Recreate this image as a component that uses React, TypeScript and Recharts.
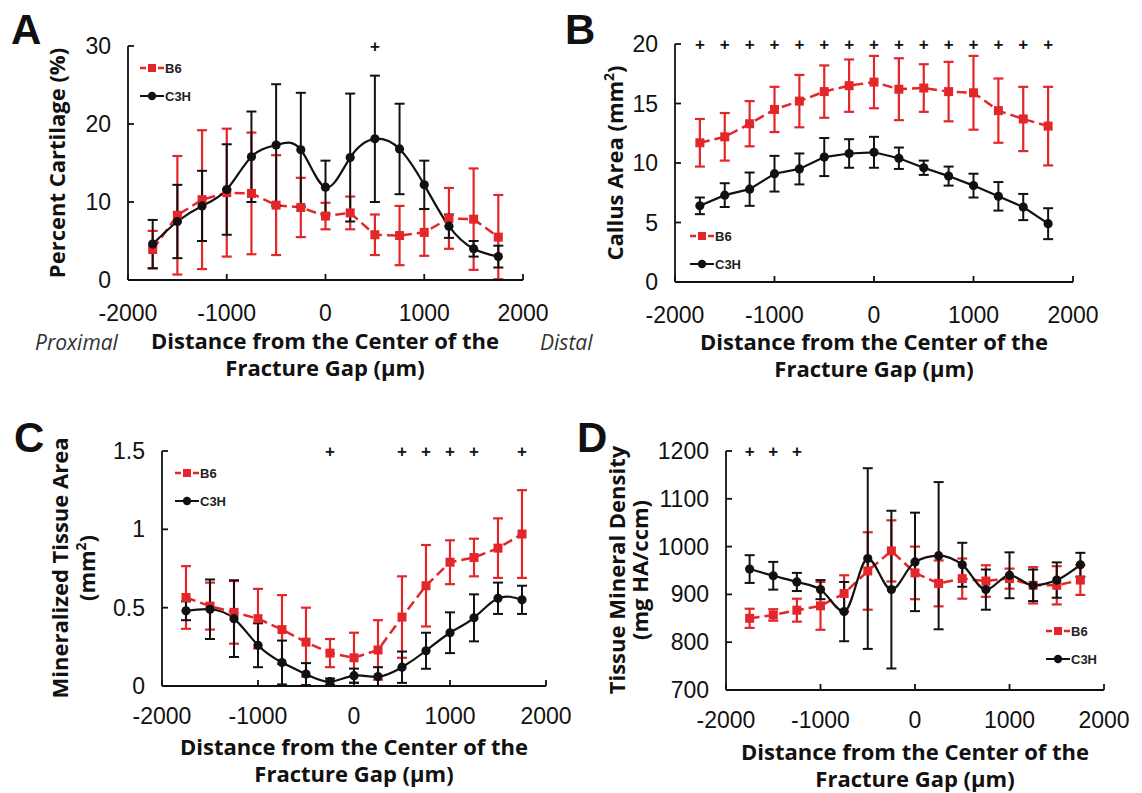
import React from 'react';
import { ComposedChart, Line, XAxis, YAxis, ErrorBar, Legend } from 'recharts';

// ---------- shared categories / ticks ----------
const positions = [-1750, -1500, -1250, -1000, -750, -500, -250, 0, 250, 500, 750, 1000, 1250, 1500, 1750];
const xTicks = [-2000, -1000, 0, 1000, 2000];

// ---------- Panel A : Percent Cartilage ----------
const aYTicks = [0, 10, 20, 30];
const aB6 = [3.9, 8.3, 10.3, 11.2, 11.1, 9.6, 9.3, 8.2, 8.6, 5.8, 5.7, 6.1, 7.9, 7.8, 5.5];
const aB6Err = [2.4, 7.6, 8.9, 8.2, 7.8, 6.4, 3.8, 1.7, 2.1, 2.6, 3.8, 3.0, 3.9, 6.5, 5.4];
const aC3H = [4.6, 7.5, 9.5, 11.6, 15.8, 17.3, 16.7, 11.9, 15.7, 18.1, 16.8, 12.2, 6.9, 4.0, 3.0];
const aC3HErr = [3.1, 4.7, 4.5, 5.8, 5.8, 7.8, 7.3, 3.4, 8.2, 8.1, 5.8, 3.1, 1.5, 1.0, 1.4];
const aSig = [500];

// ---------- Panel B : Callus Area ----------
const bYTicks = [0, 5, 10, 15, 20];
const bB6 = [11.7, 12.2, 13.3, 14.5, 15.2, 16.0, 16.5, 16.8, 16.2, 16.3, 16.0, 15.9, 14.4, 13.7, 13.1];
const bB6Err = [2.0, 2.0, 1.9, 1.9, 2.2, 2.2, 2.2, 2.2, 2.6, 2.0, 2.5, 3.1, 2.7, 2.7, 3.3];
const bC3H = [6.4, 7.3, 7.8, 9.1, 9.5, 10.5, 10.8, 10.9, 10.4, 9.6, 8.9, 8.1, 7.2, 6.3, 4.9];
const bC3HErr = [0.7, 1.0, 1.4, 1.5, 1.3, 1.6, 1.2, 1.3, 0.9, 0.6, 0.8, 1.0, 1.2, 1.1, 1.3];
const bSig = [-1750, -1500, -1250, -1000, -750, -500, -250, 0, 250, 500, 750, 1000, 1250, 1500, 1750];

// ---------- Panel C : Mineralized Tissue Area ----------
const cYTicks = [0, 0.5, 1, 1.5];
const cB6 = [0.565, 0.51, 0.47, 0.43, 0.36, 0.28, 0.21, 0.18, 0.23, 0.44, 0.64, 0.79, 0.82, 0.88, 0.97];
const cB6Err = [0.2, 0.15, 0.2, 0.19, 0.22, 0.22, 0.09, 0.16, 0.19, 0.26, 0.26, 0.14, 0.12, 0.19, 0.28];
const cC3H = [0.48, 0.49, 0.43, 0.26, 0.15, 0.076, 0.028, 0.066, 0.06, 0.12, 0.225, 0.34, 0.435, 0.56, 0.55];
const cC3HErr = [0.06, 0.19, 0.245, 0.14, 0.14, 0.07, 0.02, 0.045, 0.06, 0.1, 0.115, 0.13, 0.15, 0.1, 0.09];
const cSig = [-250, 500, 750, 1000, 1250, 1750];

// ---------- Panel D : Tissue Mineral Density ----------
const dYTicks = [700, 800, 900, 1000, 1100, 1200];
const dB6 = [850, 857, 867, 876, 902, 949, 991, 945, 923, 933, 928, 933, 919, 919, 930];
const dB6Err = [20, 12, 24, 50, 38, 81, 64, 55, 48, 42, 33, 21, 38, 40, 31];
const dC3H = [953, 939, 926, 910, 864, 975, 910, 968, 981, 962, 910, 940, 919, 930, 962];
const dC3HErr = [29, 29, 19, 20, 62, 189, 165, 103, 154, 46, 42, 48, 33, 37, 25];
const dSig = [-1750, -1500, -1250];

const RED = '#e3262a';
const BLACK = '#111111';
const TICK_FONT = '"Liberation Sans", Arial, sans-serif';
const TITLE_FONT = '"Open Sans", "Liberation Sans", Arial, sans-serif';

type Curve = 'linear' | 'natural' | 'monotone';
type PanelCfg = {
  id: string;
  left: number; top: number; width: number; height: number;
  plot: { l: number; t: number; r: number; b: number };
  yDomain: [number, number];
  yTicks: number[];
  b6: number[]; b6Err: number[]; c3h: number[]; c3hErr: number[];
  sig: number[];
  b6Curve: Curve; c3hCurve: Curve;
  legend: { x: number; y: number };
  tickOffset: number;
};

const panels: PanelCfg[] = [
  { id: 'A', left: 0, top: 0, width: 571, height: 400, plot: { l: 128, t: 46, r: 523, b: 280 },
    yDomain: [0, 30], yTicks: aYTicks, b6: aB6, b6Err: aB6Err, c3h: aC3H, c3hErr: aC3HErr, sig: aSig,
    b6Curve: 'linear', c3hCurve: 'natural', legend: { x: 140, y: 58 }, tickOffset: 41 },
  { id: 'B', left: 571, top: 0, width: 571, height: 400, plot: { l: 675, t: 44, r: 1073, b: 282 },
    yDomain: [0, 20], yTicks: bYTicks, b6: bB6, b6Err: bB6Err, c3h: bC3H, c3hErr: bC3HErr, sig: bSig,
    b6Curve: 'linear', c3hCurve: 'linear', legend: { x: 690, y: 226 }, tickOffset: 41 },
  { id: 'C', left: 0, top: 400, width: 571, height: 393, plot: { l: 162, t: 451, r: 546, b: 686 },
    yDomain: [0, 1.5], yTicks: cYTicks, b6: cB6, b6Err: cB6Err, c3h: cC3H, c3hErr: cC3HErr, sig: cSig,
    b6Curve: 'linear', c3hCurve: 'natural', legend: { x: 175, y: 463 }, tickOffset: 38 },
  { id: 'D', left: 571, top: 400, width: 571, height: 393, plot: { l: 726, t: 451, r: 1104, b: 690 },
    yDomain: [700, 1200], yTicks: dYTicks, b6: dB6, b6Err: dB6Err, c3h: dC3H, c3hErr: dC3HErr, sig: dSig,
    b6Curve: 'linear', c3hCurve: 'monotone', legend: { x: 1046, y: 621 }, tickOffset: 38 },
];

const XTick = (props: any) => {
  const { x, y, payload, offset } = props;
  return (
    <g>
      <line x1={x} y1={y} x2={x} y2={y - 6} stroke={BLACK} strokeWidth={1.8} />
      <text x={x} y={y + offset} textAnchor="middle" fontFamily={TICK_FONT} fontSize={23} fill={BLACK}>
        {payload.value}
      </text>
    </g>
  );
};

const YTick = (props: any) => {
  const { x, y, payload } = props;
  return (
    <g>
      <line x1={x} y1={y} x2={x + 6} y2={y} stroke={BLACK} strokeWidth={1.8} />
      <text x={x - 17} y={y} textAnchor="end" dominantBaseline="central" fontFamily={TICK_FONT} fontSize={23} fill={BLACK}>
        {payload.value}
      </text>
    </g>
  );
};

const SquareDot = (props: any) => {
  const { cx, cy, index } = props;
  if (cx == null || cy == null) return <g key={`s${index}`} />;
  return <rect key={`s${index}`} x={cx - 4.5} y={cy - 4.5} width={9} height={9} fill={RED} />;
};

const CircleDot = (props: any) => {
  const { cx, cy, index } = props;
  if (cx == null || cy == null) return <g key={`c${index}`} />;
  return <circle key={`c${index}`} cx={cx} cy={cy} r={4.6} fill={BLACK} />;
};

const PlusDot = (props: any) => {
  const { cx, cy, index, value } = props;
  if (cx == null || cy == null || value == null) return <g key={`p${index}`} />;
  return (
    <text key={`p${index}`} x={cx} y={cy} textAnchor="middle" dominantBaseline="central"
      fontFamily={TICK_FONT} fontWeight={700} fontSize={17} fill={BLACK}>+</text>
  );
};

const renderLegend = (props: any) => {
  const items = (props.payload || []).filter((p: any) => p.value === 'B6' || p.value === 'C3H');
  return (
    <svg width={64} height={items.length * 28 + 2} style={{ display: 'block' }}>
      {items.map((it: any, i: number) => {
        const cy = 10 + i * 28;
        const isB6 = it.value === 'B6';
        const col = isB6 ? RED : BLACK;
        return (
          <g key={it.value}>
            <line x1={0} y1={cy} x2={24} y2={cy} stroke={col} strokeWidth={isB6 ? 2.5 : 2}
              strokeDasharray={isB6 ? '6 3' : undefined} />
            {isB6
              ? <rect x={8} y={cy - 4} width={8} height={8} fill={RED} />
              : <circle cx={12} cy={cy} r={4.2} fill={BLACK} />}
            <text x={25} y={cy} dominantBaseline="central" fontFamily={TICK_FONT} fontWeight={700}
              fontSize={13} fill="#222">{it.value}</text>
          </g>
        );
      })}
    </svg>
  );
};

const Panel = ({ cfg }: { cfg: PanelCfg }) => {
  const XH = 30;
  const yw = cfg.plot.l - cfg.left;
  const margin = {
    top: cfg.plot.t - cfg.top,
    right: cfg.left + cfg.width - cfg.plot.r,
    bottom: cfg.top + cfg.height - cfg.plot.b - XH,
    left: 0,
  };
  const data = positions.map((x, i) => ({
    x,
    b6: cfg.b6[i],
    b6Err: cfg.b6Err[i],
    c3h: cfg.c3h[i],
    c3hErr: cfg.c3hErr[i],
    sig: cfg.sig.includes(x) ? cfg.yDomain[1] : null,
  }));
  return (
    <div style={{ position: 'absolute', left: cfg.left, top: cfg.top, width: cfg.width, height: cfg.height }}>
      <ComposedChart width={cfg.width} height={cfg.height} data={data} margin={margin}>
        <XAxis dataKey="x" type="number" domain={[-2000, 2000]} ticks={xTicks} interval={0}
          tickSize={0} tickMargin={0} height={XH} tick={(p: any) => <XTick {...p} offset={cfg.tickOffset} />}
          axisLine={{ stroke: BLACK, strokeWidth: 1.8 }} />
        <YAxis type="number" domain={cfg.yDomain} ticks={cfg.yTicks} interval={0} width={yw}
          tickSize={0} tickMargin={0} tick={(p: any) => <YTick {...p} />}
          axisLine={{ stroke: BLACK, strokeWidth: 1.8 }} />
        <Legend layout="vertical" align="center" verticalAlign="middle" content={renderLegend}
          wrapperStyle={{ left: cfg.legend.x - cfg.left, top: cfg.legend.y - cfg.top, width: 64 }} />
        <Line name="B6" dataKey="b6" type={cfg.b6Curve} stroke={RED} strokeWidth={2.5}
          strokeDasharray="10 5" dot={SquareDot} activeDot={false} isAnimationActive={false}>
          <ErrorBar dataKey="b6Err" direction="y" width={5} stroke={RED} strokeWidth={2.2} />
        </Line>
        <Line name="C3H" dataKey="c3h" type={cfg.c3hCurve} stroke={BLACK} strokeWidth={2.2}
          dot={CircleDot} activeDot={false} isAnimationActive={false}>
          <ErrorBar dataKey="c3hErr" direction="y" width={5} stroke={BLACK} strokeWidth={2} />
        </Line>
        <Line name="sig" dataKey="sig" stroke="none" legendType="none" dot={PlusDot}
          activeDot={false} isAnimationActive={false} connectNulls={false} />
      </ComposedChart>
    </div>
  );
};

const titleStyle = { fontFamily: TITLE_FONT, fontWeight: 700, fontSize: 22, fill: BLACK } as const;

const Titles = () => (
  <svg width={1142} height={793} style={{ position: 'absolute', left: 0, top: 0, pointerEvents: 'none' }}>
    {/* panel letters */}
    <g fontFamily={TICK_FONT} fontWeight={700} fontSize={42} fill={BLACK}>
      <text x={11} y={44}>A</text>
      <text x={565} y={44}>B</text>
      <text x={14} y={452}>C</text>
      <text x={577} y={452}>D</text>
    </g>
    {/* x titles */}
    <g style={titleStyle} textAnchor="middle">
      <text x={325} y={349}>Distance from the Center of the</text>
      <text x={325} y={376}>Fracture Gap (µm)</text>
      <text x={874} y={350}>Distance from the Center of the</text>
      <text x={874} y={377}>Fracture Gap (µm)</text>
      <text x={354} y={755}>Distance from the Center of the</text>
      <text x={354} y={782}>Fracture Gap (µm)</text>
      <text x={915} y={760}>Distance from the Center of the</text>
      <text x={915} y={787}>Fracture Gap (µm)</text>
    </g>
    <g fontFamily={TITLE_FONT} fontStyle="italic" fontSize={21} fill="#333">
      <text x={35} y={350}>Proximal</text>
      <text x={540} y={350}>Distal</text>
    </g>
    {/* y titles */}
    <g style={titleStyle} textAnchor="middle">
      <text transform="translate(65,163) rotate(-90)">Percent Cartilage (%)</text>
      <text transform="translate(623,163) rotate(-90)">
        Callus Area (mm<tspan fontSize={14} dy={-9}>2</tspan><tspan dy={9}>)</tspan>
      </text>
      <text transform="translate(68,568) rotate(-90)">Mineralized Tissue Area</text>
      <text transform="translate(95,568) rotate(-90)">
        (mm<tspan fontSize={14} dy={-9}>2</tspan><tspan dy={9}>)</tspan>
      </text>
      <text transform="translate(625,570) rotate(-90)">Tissue Mineral Density</text>
      <text transform="translate(648,570) rotate(-90)">(mg HA/ccm)</text>
    </g>
  </svg>
);

export default function App() {
  return (
    <div style={{ position: 'absolute', left: 0, top: 0, width: 1142, height: 793, background: '#fff', overflow: 'hidden' }}>
      {panels.map((p) => <Panel key={p.id} cfg={p} />)}
      <Titles />
    </div>
  );
}
